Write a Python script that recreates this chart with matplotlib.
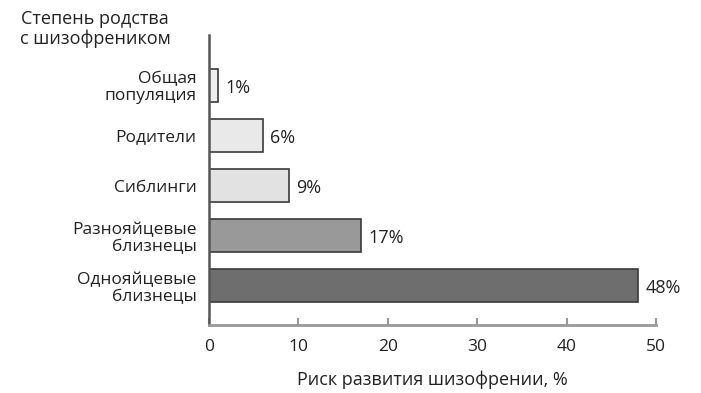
import matplotlib.pyplot as plt
import numpy as np

plt.rcParams["font.family"] = ["Open Sans", "DejaVu Sans"]

categories = [
    "Общая\nпопуляция",
    "Родители",
    "Сиблинги",
    "Разнояйцевые\nблизнецы",
    "Однояйцевые\nблизнецы",
]
risk = [1, 6, 9, 17, 48]
bar_colors = ["#eeeeee", "#e9e9e9", "#e2e2e2", "#999999", "#6e6e6e"]
xticks = [0, 10, 20, 30, 40, 50]

fig = plt.figure(figsize=(7.01, 3.93), dpi=100)
ax = fig.add_axes([0.298, 0.173, 0.638, 0.738])

y = np.arange(len(categories))
ax.barh(y, risk, height=0.66, color=bar_colors, edgecolor="#3a3a3a", linewidth=1.2)

for yi, v in zip(y, risk):
    ax.text(v + 0.8, yi + 0.05, f"{v}%", va="center", ha="left", fontsize=13, color="#222222")

ax.set_ylim(4.78, -1.0)
ax.set_xlim(0, 50)
ax.set_yticks(y)
ax.set_yticklabels(categories, fontsize=12.5, color="#222222", linespacing=1.1)
ax.tick_params(axis="y", length=0, pad=9)
ax.set_xticks(xticks)
ax.set_xticklabels([str(t) for t in xticks], fontsize=12.5, color="#222222")
ax.tick_params(axis="x", direction="in", length=5, width=1.5, color="#999999", pad=10)

for side in ["top", "right"]:
    ax.spines[side].set_visible(False)
ax.spines["bottom"].set_color("#999999")
ax.spines["bottom"].set_linewidth(2)
ax.spines["left"].set_color("#555555")
ax.spines["left"].set_linewidth(1.8)

ax.set_xlabel("Риск развития шизофрении, %", fontsize=13, color="#222222", labelpad=11)
fig.text(0.136, 0.975, "Степень родства\nс шизофреником", ha="center", va="top",
         fontsize=13, color="#222222", linespacing=1.1)

fig.savefig("out.png", dpi=100)
